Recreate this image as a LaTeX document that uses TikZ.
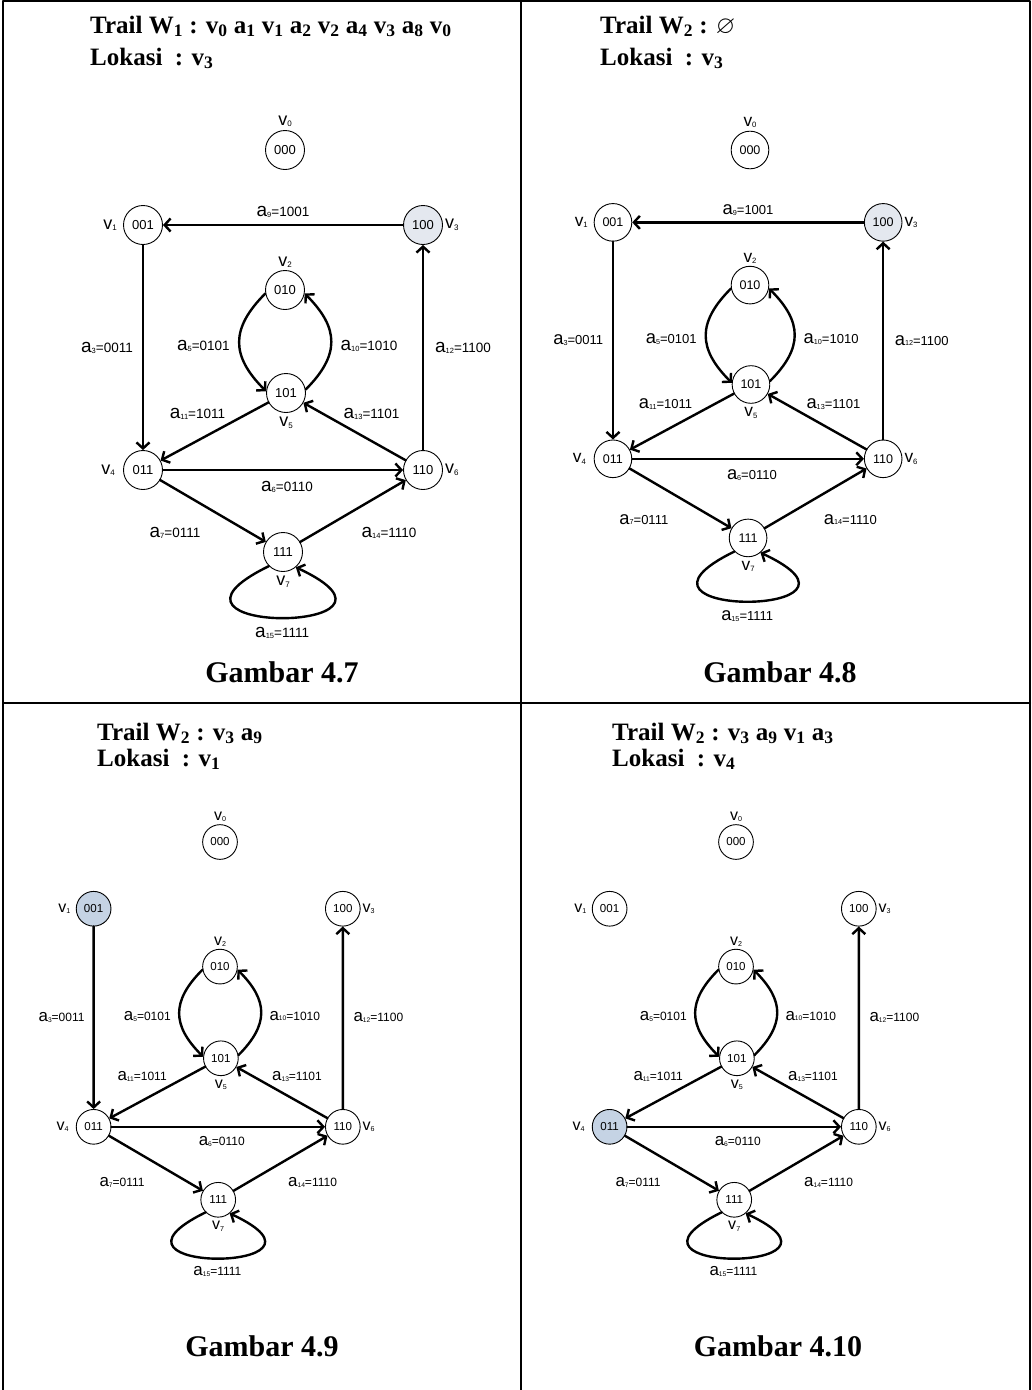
\documentclass[tikz,border=0pt]{standalone}
\usepackage{fontspec}
\usepackage{amssymb}
\setmainfont{Liberation Serif}
\newfontfamily\arial{Liberation Sans}
\usetikzlibrary{arrows.meta}
\definecolor{hlgrey}{HTML}{E4E8EF}
\definecolor{hlblue}{HTML}{C5D3E4}
\newcommand{\vname}[1]{{\fontsize{18}{18}\selectfont v}\raisebox{-1.5pt}{\fontsize{8}{8}\selectfont #1}}
\newcommand{\aname}[2]{{\fontsize{19}{19}\selectfont a}\raisebox{-1pt}{\fontsize{7.5}{7.5}\selectfont #1}{\fontsize{13.5}{13.5}\selectfont =#2}}
\begin{document}
\begin{tikzpicture}[x=1pt,y=-1pt,line cap=round,line join=round,
	vtx/.style={circle,draw,line width=0.9pt,minimum size=39pt,inner sep=0pt,font=\arial\fontsize{13}{13}\selectfont},
	lbl/.style={font=\arial,inner sep=1pt},
	elbl/.style={font=\arial,inner sep=0pt,midway},
	arc/.style={line width=2.4pt,-{Straight Barb[length=6pt,width=13pt]}},
	head/.style={anchor=base west,inner sep=0pt,font=\bfseries\fontsize{25}{30}\selectfont},
	capt/.style={anchor=base,inner sep=0pt,font=\bfseries\fontsize{30}{36}\selectfont}]
	\useasboundingbox (0,0) rectangle (1032,1390);
	% table
	\draw[line width=2pt] (3,1390) -- (3,1) -- (1030,1) -- (1030,1390);
	\draw[line width=2pt] (521,1) -- (521,1390) (3,703) -- (1030,703);
	% titles
	\node[head] (t1) at (90,33) {Trail W\textsubscript{1} : v\textsubscript{0} a\textsubscript{1} v\textsubscript{1} a\textsubscript{2} v\textsubscript{2} a\textsubscript{4} v\textsubscript{3} a\textsubscript{8} v\textsubscript{0}};
	\node[head] (l1) at (90,65) {Lokasi\ \ : v\textsubscript{3}};
	\node[head] (t2) at (600,33) {Trail W\textsubscript{2} : $\varnothing$};
	\node[head] (l2) at (600,65) {Lokasi\ \ : v\textsubscript{3}};
	\node[head] (t3) at (97,740) {Trail W\textsubscript{2} : v\textsubscript{3} a\textsubscript{9}};
	\node[head] (l3) at (97,766) {Lokasi\ \ : v\textsubscript{1}};
	\node[head] (t4) at (612,740) {Trail W\textsubscript{2} : v\textsubscript{3} a\textsubscript{9} v\textsubscript{1} a\textsubscript{3}};
	\node[head] (l4) at (612,766) {Lokasi\ \ : v\textsubscript{4}};
	\node[capt] (c1) at (282,682) {Gambar 4.7};
	\node[capt] (c2) at (780,682) {Gambar 4.8};
	\node[capt] (c3) at (262,1356) {Gambar 4.9};
	\node[capt] (c4) at (778,1356) {Gambar 4.10};
	% the four graphs
	\foreach \px/\py/\s/\hl/\fc/\ne in {285/150/1/3/hlgrey/2, 750/150/0.965/3/hlgrey/2, 220/842/0.89/1/hlblue/1, 736/842/0.89/4/hlblue/0}{
	\begin{scope}[shift={(\px,\py)},scale=\s,transform shape]
		\tikzset{mk1/.style={},mk3/.style={},mk4/.style={},mk\hl/.style={fill=\fc}}
		\node[vtx,label={[lbl,label distance=2pt]above:\vname{0}}] (v0) at (0,0) {000};
		\node[vtx,mk1,label={[lbl,label distance=5pt]left:\vname{1}}] (v1) at (-142,75) {001};
		\node[vtx,label={[lbl,label distance=1pt]above:\vname{2}}] (v2) at (0,140) {010};
		\node[vtx,mk3,label={[lbl,label distance=1pt]right:\vname{3}}] (v3) at (138,75) {100};
		\node[vtx,mk4,label={[lbl,label distance=7pt]left:\vname{4}}] (v4) at (-142,320) {011};
		\node[vtx,label={[lbl,label distance=3pt]below:\vname{5}}] (v5) at (1,243) {101};
		\node[vtx,label={[lbl,label distance=1pt]right:\vname{6}}] (v6) at (138,320) {110};
		\node[vtx,label={[lbl,label distance=3pt]below:\vname{7}}] (v7) at (-2,402) {111};
		\ifnum\ne>1 \draw[arc] (v3) -- (v1) node[elbl,yshift=13pt] {\aname{9}{1001}};\fi
		\ifnum\ne>0 \draw[arc] (v1) -- (v4) node[elbl,xshift=-36pt] {\aname{3}{0011}};\fi
		\draw[arc] (v2.190) to[out=225,in=135,looseness=1.3] node[elbl,xshift=-36pt,yshift=-4pt] {\aname{5}{0101}} (v5.175);
		\draw[arc] (v5.10) to[out=45,in=-45,looseness=1.3] node[elbl,xshift=38pt,yshift=-4pt] {\aname{10}{1010}} (v2.-10);
		\draw[arc] (v5) -- (v4) node[elbl,xshift=-17pt,yshift=18pt] {\aname{11}{1011}};
		\draw[arc] (v6) -- (v5) node[elbl,xshift=17pt,yshift=18pt] {\aname{13}{1101}};
		\draw[arc] (v6) -- (v3) node[elbl,xshift=40pt] {\aname{12}{1100}};
		\draw[arc] (v4) -- (v6) node[elbl,xshift=4pt,yshift=-17pt] {\aname{6}{0110}};
		\draw[arc] (v4) -- (v7) node[elbl,xshift=-38pt,yshift=-22pt] {\aname{7}{0111}};
		\draw[arc] (v7) -- (v6) node[elbl,xshift=36pt,yshift=-22pt] {\aname{14}{1110}};
		\draw[arc] (v7.225) .. controls +(206:160pt) and +(-25:158pt) .. (v7.-50) node[elbl,yshift=-15pt] {\aname{15}{1111}};
	\end{scope}
	}
\end{tikzpicture}
\end{document}
